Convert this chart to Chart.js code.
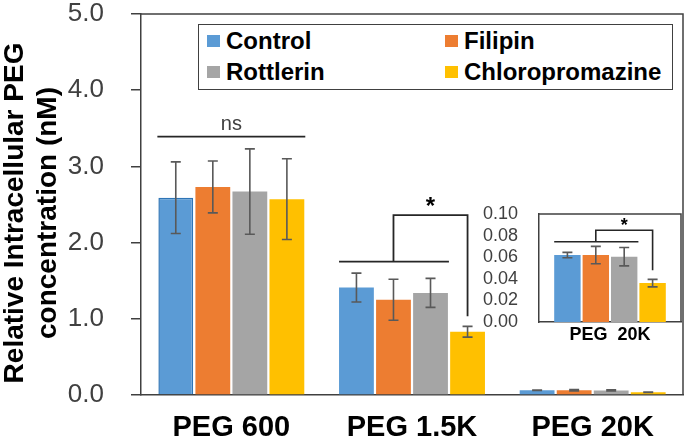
<!DOCTYPE html>
<html>
<head>
<meta charset="utf-8">
<script src="https://cdn.jsdelivr.net/npm/chart.js@4.4.0/dist/chart.umd.min.js"></script>
<style>
  html, body { margin: 0; padding: 0; background: #fff; }
  #wrap { position: relative; width: 685px; height: 441px; overflow: hidden; }
  #mainChart { position: absolute; left: 0; top: 0; }
  #insetChart { position: absolute; left: 470px; top: 200px; }
  #legend {
    position: absolute; left: 198px; top: 24px; width: 475px; height: 66px;
    border: 1.5px solid #404040; box-sizing: border-box; background: #fff;
    font: bold 24px 'Liberation Sans', Arial, sans-serif; color: #000;
  }
  #legend .item { position: absolute; display: flex; align-items: center; line-height: 1; }
  #legend .sw { width: 13px; height: 12px; margin-right: 6px; }
</style>
</head>
<body>
<div id="wrap">
  <canvas id="mainChart" width="685" height="441"></canvas>
  <div id="legend"></div>
  <canvas id="insetChart" width="214" height="150"></canvas>
</div>
<script>
// categories and series (nM)
const categories = ['PEG 600', 'PEG 1.5K', 'PEG 20K'];
const seriesNames = ['Control', 'Filipin', 'Rottlerin', 'Chloropromazine'];
const seriesColors = ['#5B9BD5', '#ED7D31', '#A5A5A5', '#FFC000'];

const controlVals   = [2.59, 1.41, 0.062];
const filipinVals   = [2.73, 1.25, 0.062];
const rottlerinVals = [2.67, 1.34, 0.0605];
const chloroVals    = [2.57, 0.83, 0.036];

const controlErr   = [0.47, 0.19, 0.0025];
const filipinErr   = [0.34, 0.27, 0.008];
const rottlerinErr = [0.56, 0.19, 0.0085];
const chloroErr    = [0.53, 0.07, 0.0035];

const mainTicks  = [0, 1, 2, 3, 4, 5];
const insetTicks = [0, 0.02, 0.04, 0.06, 0.08, 0.10];

// significance marks (data units)
const nsLevel = 3.39;
const peg15kBracket = [1.75, 2.36, 1.035, 2.53];   // base, top, drop end, star
const peg20kBracket = [0.0743, 0.0849, 0.048, 0.0926];

const allVals = [controlVals, filipinVals, rottlerinVals, chloroVals];
const allErrs = [controlErr, filipinErr, rottlerinErr, chloroErr];

const FONT = "'Liberation Sans', Arial, sans-serif";
const AXIS = '#404040';

// legend
const legendEl = document.getElementById('legend');
const legendPos = [[8, 16], [246, 16], [8, 47], [246, 47]];
seriesNames.forEach((name, i) => {
    const item = document.createElement('div');
    item.className = 'item';
    item.style.left = legendPos[i][0] + 'px';
    item.style.top = (legendPos[i][1] - 12) + 'px';
    item.innerHTML = `<span class="sw" style="background:${seriesColors[i]}"></span>${name}`;
    legendEl.appendChild(item);
});

const errorBars = {
    id: 'errorBars',
    afterDatasetsDraw(chart) {
        const ctx = chart.ctx;
        const y = chart.scales.y;
        ctx.save();
        ctx.strokeStyle = '#595959';
        ctx.lineWidth = 1.6;
        chart.data.datasets.forEach((ds, i) => {
            chart.getDatasetMeta(i).data.forEach((bar, j) => {
                const v = ds.data[j], e = ds.errors[j];
                const t = y.getPixelForValue(v + e), b = y.getPixelForValue(v - e);
                const cap = 5;
                ctx.beginPath();
                ctx.moveTo(bar.x, t); ctx.lineTo(bar.x, b);
                ctx.moveTo(bar.x - cap, t); ctx.lineTo(bar.x + cap, t);
                ctx.moveTo(bar.x - cap, b); ctx.lineTo(bar.x + cap, b);
                ctx.stroke();
            });
        });
        ctx.restore();
    }
};

// top and right edges of the plot box
const frame = {
    id: 'frame',
    afterDraw(chart) {
        const a = chart.chartArea, ctx = chart.ctx;
        ctx.save();
        ctx.strokeStyle = AXIS;
        ctx.lineWidth = 1.5;
        ctx.beginPath();
        ctx.moveTo(a.left, a.top); ctx.lineTo(a.right, a.top); ctx.lineTo(a.right, a.bottom);
        ctx.stroke();
        ctx.restore();
    }
};

function barEdges(chart, ds, idx) {
    const bar = chart.getDatasetMeta(ds).data[idx];
    return { left: bar.x - bar.width / 2, right: bar.x + bar.width / 2, x: bar.x };
}

function drawBracket(chart, idx, levels, starSize) {
    const ctx = chart.ctx, y = chart.scales.y;
    const first = barEdges(chart, 0, idx), third = barEdges(chart, 2, idx), last = barEdges(chart, 3, idx);
    const base = y.getPixelForValue(levels[0]);
    const top = y.getPixelForValue(levels[1]);
    const drop = y.getPixelForValue(levels[2]);
    const mid = (first.left + third.right) / 2;
    ctx.beginPath();
    ctx.moveTo(first.left, base); ctx.lineTo(third.right + 1, base);
    ctx.moveTo(mid, base); ctx.lineTo(mid, top); ctx.lineTo(last.x, top); ctx.lineTo(last.x, drop);
    ctx.stroke();
    ctx.fillStyle = '#000';
    ctx.font = `bold ${starSize}px ${FONT}`;
    ctx.textAlign = 'center';
    ctx.textBaseline = 'middle';
    ctx.fillText('*', (mid + last.x) / 2, y.getPixelForValue(levels[3]) + starSize * 0.2);
}

const mainMarks = {
    id: 'mainMarks',
    afterDraw(chart) {
        const ctx = chart.ctx, y = chart.scales.y;
        ctx.save();
        ctx.strokeStyle = '#262626';
        ctx.lineWidth = 1.8;
        const a = barEdges(chart, 0, 0), d = barEdges(chart, 3, 0);
        const ny = y.getPixelForValue(nsLevel);
        ctx.beginPath();
        ctx.moveTo(a.left - 1, ny); ctx.lineTo(d.right + 1, ny);
        ctx.stroke();
        ctx.fillStyle = AXIS;
        ctx.font = `20px ${FONT}`;
        ctx.textAlign = 'center';
        ctx.textBaseline = 'bottom';
        ctx.fillText('ns', (a.left + d.right) / 2, ny - 2);
        drawBracket(chart, 1, peg15kBracket, 24);

        // y axis title
        ctx.fillStyle = '#000';
        ctx.font = `bold 28px ${FONT}`;
        ctx.textAlign = 'center';
        ctx.textBaseline = 'middle';
        const cy = 213;
        [['Relative Intracellular PEG', 15], ['concentration (nM)', 48]].forEach(([txt, x]) => {
            ctx.save();
            ctx.translate(x, cy);
            ctx.rotate(-Math.PI / 2);
            ctx.fillText(txt, 0, 0);
            ctx.restore();
        });
        ctx.restore();
    }
};

const insetMarks = {
    id: 'insetMarks',
    afterDraw(chart) {
        const ctx = chart.ctx;
        ctx.save();
        ctx.strokeStyle = '#262626';
        ctx.lineWidth = 1.6;
        drawBracket(chart, 0, peg20kBracket, 18);
        ctx.restore();
    }
};

new Chart(document.getElementById('mainChart'), {
    type: 'bar',
    data: {
        labels: categories,
        datasets: seriesNames.map((name, i) => ({
            label: name,
            data: allVals[i],
            errors: allErrs[i],
            backgroundColor: seriesColors[i],
            borderColor: i === 0 ? ['#2E75B6', seriesColors[0], seriesColors[0]] : seriesColors[i],
            borderWidth: i === 0 ? [1.5, 0, 0] : 0,
            categoryPercentage: 0.82,
            barPercentage: 0.94
        }))
    },
    options: {
        responsive: false,
        animation: false,
        layout: { padding: { top: 14, right: 2, left: 0, bottom: 0 } },
        plugins: { legend: { display: false }, tooltip: { enabled: false } },
        scales: {
            x: {
                grid: { display: false, drawTicks: false },
                border: { display: true, color: AXIS, width: 1.5 },
                ticks: { color: '#000', font: { family: FONT, size: 29, weight: 'bold' }, padding: 16 },
                afterFit: s => { s.height = 46; }
            },
            y: {
                min: 0, max: 5,
                afterBuildTicks: s => { s.ticks = mainTicks.map(v => ({ value: v })); },
                grid: { display: true, drawOnChartArea: false, drawTicks: true, tickLength: 10, color: AXIS, lineWidth: 1.5 },
                border: { display: true, color: AXIS, width: 1.5 },
                ticks: { color: AXIS, font: { family: FONT, size: 26 }, padding: 27, autoSkip: false, callback: v => v.toFixed(1) },
                afterFit: s => { s.width = 141; s.paddingTop = 0; s.paddingBottom = 0; }
            }
        }
    },
    plugins: [errorBars, frame, mainMarks]
});

new Chart(document.getElementById('insetChart'), {
    type: 'bar',
    data: {
        labels: ['PEG  20K'],
        datasets: seriesNames.map((name, i) => ({
            label: name,
            data: [allVals[i][2]],
            errors: [allErrs[i][2]],
            backgroundColor: seriesColors[i],
            borderWidth: 0,
            categoryPercentage: 0.80,
            barPercentage: 0.93
        }))
    },
    options: {
        responsive: false,
        animation: false,
        layout: { padding: { top: 14, right: 3, left: 0, bottom: 0 } },
        plugins: { legend: { display: false }, tooltip: { enabled: false } },
        scales: {
            x: {
                grid: { display: false, drawTicks: false },
                border: { display: true, color: AXIS, width: 1.5 },
                ticks: { color: '#000', font: { family: FONT, size: 18, weight: 'bold' }, padding: 2 },
                afterFit: s => { s.height = 28; }
            },
            y: {
                min: 0, max: 0.1,
                afterBuildTicks: s => { s.ticks = insetTicks.map(v => ({ value: v })); },
                grid: { display: false, drawTicks: false },
                border: { display: true, color: AXIS, width: 1.5 },
                ticks: { color: AXIS, font: { family: FONT, size: 18 }, padding: 21, autoSkip: false, callback: v => v.toFixed(2) },
                afterFit: s => { s.width = 69; s.paddingTop = 0; s.paddingBottom = 0; }
            }
        }
    },
    plugins: [errorBars, frame, insetMarks]
});
</script>
</body>
</html>
